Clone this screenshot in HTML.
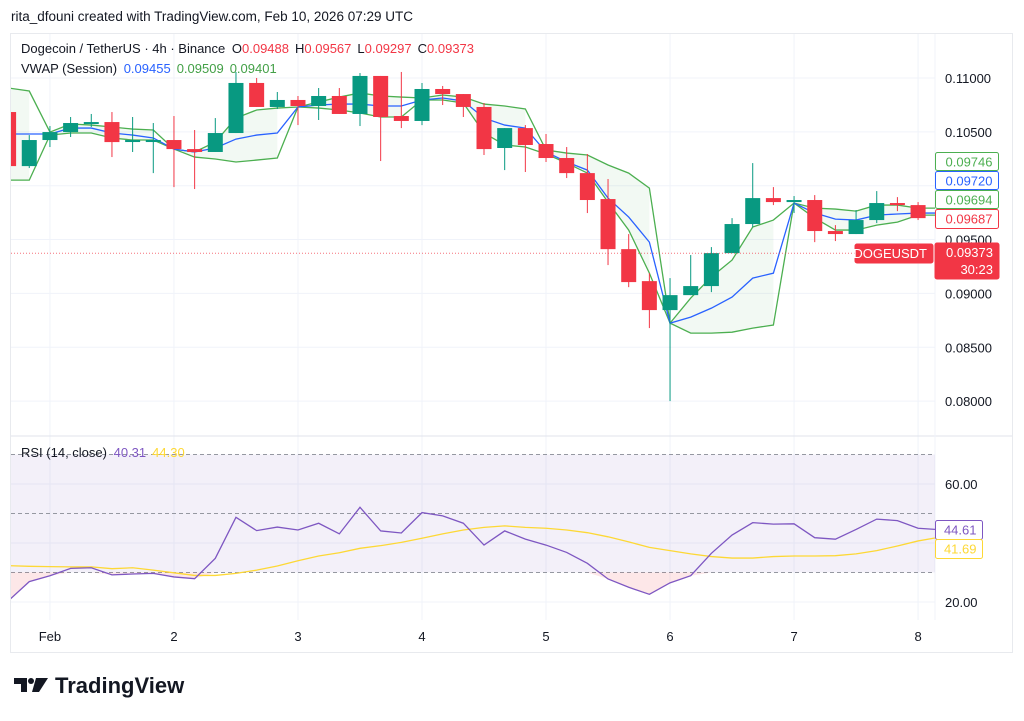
<!DOCTYPE html>
<html><head><meta charset="utf-8">
<style>
body{margin:0;background:#fff;font-family:"Liberation Sans",sans-serif;}
#wrap{position:relative;width:1024px;height:721px;overflow:hidden;background:#fff;}
svg text{font-family:"Liberation Sans",sans-serif;}
</style></head><body>
<div id="wrap">
<svg id="svg" width="1024" height="721">
  <defs><clipPath id="plot"><rect x="11" y="34" width="924" height="586"/></clipPath></defs>
  <text x="11" y="21" font-size="13.5" fill="#131722">rita_dfouni created with TradingView.com, Feb 10, 2026 07:29 UTC</text>
  <rect x="10.5" y="33.5" width="1002" height="619" fill="none" stroke="#e8eaee"/>
  <g id="grid"></g>
  <g id="rsiBg"></g>
  <g clip-path="url(#plot)">
  <g id="vwap"></g>
  <g id="candles"></g>
  <g id="rsi"></g>
  </g>
  <g id="axes"></g>
  <g>
    <text x="21" y="53" font-size="13" fill="#131722">Dogecoin / TetherUS · 4h · Binance <tspan dx="3">O</tspan><tspan fill="#f23645">0.09488</tspan><tspan dx="6">H</tspan><tspan fill="#f23645">0.09567</tspan><tspan dx="6">L</tspan><tspan fill="#f23645">0.09297</tspan><tspan dx="6">C</tspan><tspan fill="#f23645">0.09373</tspan></text>
    <text x="21" y="73" font-size="13" fill="#131722">VWAP (Session) <tspan dx="3" fill="#2962ff">0.09455</tspan><tspan dx="6" fill="#43a047">0.09509</tspan><tspan dx="6" fill="#43a047">0.09401</tspan></text>
    <text x="21" y="457" font-size="13" fill="#131722">RSI (14, close) <tspan dx="3" fill="#7e57c2">40.31</tspan><tspan dx="6" fill="#fdd835">44.30</tspan></text>
  </g>
  <g>
    <path d="M14 678 h13 v14 h-6 v-8 h-7z" fill="#131722"/>
    <circle cx="31" cy="681" r="3" fill="#131722"/>
    <path d="M36 678 h12 l-9 14 h-7z" fill="#131722"/>
    <text x="55" y="693" font-size="22" font-weight="bold" fill="#131722">TradingView</text>
  </g>
</svg>
</div>
<script>
const open_ =[.10684,.10182,.10424,.10498,.10582,.10591,.10415,.10415,.10424,.10340,.10313,.10489,.10954,.10731,.10796,.10740,.10833,.10666,.11019,.10647,.10601,.10898,.10851,.10731,.10350,.10535,.10387,.10257,.10117,.09876,.09411,.09114,.08845,.08984,.09068,.09374,.09644,.09885,.09848,.09867,.09579,.09551,.09681,.09839,.09820];
const close_=[.10182,.10424,.10498,.10582,.10591,.10405,.10424,.10424,.10340,.10313,.10489,.10954,.10731,.10796,.10740,.10833,.10666,.11019,.10638,.10601,.10898,.10851,.10731,.10340,.10535,.10378,.10257,.10117,.09867,.09411,.09105,.08845,.08984,.09068,.09374,.09644,.09885,.09848,.09867,.09579,.09551,.09681,.09839,.09820,.09699];
const high_ =[.10684,.10470,.10554,.10638,.10666,.10684,.10638,.10582,.10647,.10517,.10628,.11056,.11000,.10870,.10833,.10907,.10907,.11046,.11019,.11056,.10954,.10926,.10851,.10768,.10535,.10563,.10480,.10359,.10294,.10062,.09551,.09188,.09142,.09356,.09430,.09699,.10210,.09987,.09904,.09913,.09634,.09774,.09950,.09894,.09848];
const low_  =[.10182,.10164,.10359,.10452,.10545,.10266,.10313,.10117,.09987,.09969,.10313,.10489,.10731,.10712,.10563,.10610,.10666,.10554,.10229,.10535,.10563,.10749,.10638,.10285,.10145,.10127,.10220,.10071,.09746,.09263,.09058,.08678,.08000,.08984,.09012,.09374,.09616,.09820,.09746,.09476,.09486,.09551,.09653,.09764,.09681];
const vwapMid=[.10480,.10480,.10480,.10535,.10535,.10489,.10470,.10443,.10340,.10313,.10350,.10433,.10470,.10489,.10731,.10749,.10758,.10758,.10740,.10740,.10796,.10814,.10786,.10628,.10563,.10535,.10313,.10220,.10145,.09885,.09709,.09476,.08724,.08780,.08863,.08966,.09142,.09188,.09839,.09746,.09690,.09681,.09727,.09737,.09746];
const vwapUp=[.10907,.10879,.10498,.10573,.10563,.10545,.10526,.10517,.10340,.10313,.10405,.10628,.10703,.10721,.10731,.10777,.10823,.10861,.10833,.10823,.10814,.10842,.10823,.10758,.10740,.10712,.10331,.10303,.10285,.10192,.10117,.09978,.08724,.08957,.09152,.09309,.09616,.09681,.09839,.09792,.09783,.09764,.09820,.09820,.09792];
const vwapLow=[.10052,.10052,.10470,.10489,.10489,.10443,.10424,.10424,.10340,.10266,.10248,.10220,.10238,.10257,.10731,.10721,.10703,.10675,.10638,.10638,.10796,.10796,.10768,.10489,.10378,.10359,.10294,.10210,.10117,.09848,.09588,.09188,.08724,.08631,.08631,.08640,.08678,.08706,.09839,.09699,.09588,.09588,.09634,.09662,.09727];
const rsiVals=[20.5,26.9,28.9,31.4,31.6,29.2,29.5,29.7,28.5,27.9,34.8,48.7,44.2,45.4,44.4,46.7,43.1,52.1,44.1,43.4,50.3,49.2,46.7,39.3,44.1,41.3,39.3,36.8,33.1,27.8,25.0,22.6,26.5,28.9,36.5,42.7,46.9,46.4,46.5,41.8,41.3,44.6,48.1,47.6,45.0];
const rsiMA=[32.3,32.1,32.0,31.9,31.9,31.3,31.6,30.8,29.9,29.0,29.0,29.7,30.8,32.2,34.0,35.6,36.7,38.2,39.1,40.2,41.6,43.1,44.4,45.3,45.8,45.3,45.0,44.4,43.5,42.1,40.4,38.5,37.4,36.3,35.4,34.9,34.9,35.4,35.6,35.6,35.7,36.3,37.4,39.0,40.7];
const priceTicks=[0.11,0.105,0.10,0.095,0.09,0.085,0.08];
const priceTickLabels=["0.11000","0.10500","","0.09500","0.09000","0.08500","0.08000"];
const rsiTicks=[60,20];
const rsiTickLabels=["60.00","20.00"];
const dayLabels=["Feb","2","3","4","5","6","7","8"];
const dayIndex=[2,8,14,20,26,32,38,44];
const lastPrice=0.09373;

const NS="http://www.w3.org/2000/svg";
const X=i=>8.6+20.67*i;
const Y=p=>78+(0.11-p)*10770;
const R=v=>484+(60-v)*2.95;
function mk(tag,attrs,parent){const e=document.createElementNS(NS,tag);for(const k in attrs)e.setAttribute(k,attrs[k]);parent.appendChild(e);return e;}
const g=id=>document.getElementById(id);

priceTicks.forEach(p=>{const l=mk('line',{x1:11,x2:935,y1:Y(p),y2:Y(p),stroke:'#f0f3fa'},g('grid'));

});
dayIndex.forEach(i=>{const l=mk('line',{x1:X(i),x2:X(i),y1:34,y2:620,stroke:'#f0f3fa'},g('grid'));

});
[60,40,20].forEach(v=>{const l=mk('line',{x1:11,x2:935,y1:R(v),y2:R(v),stroke:'#f0f3fa'},g('grid'));

});
let sep=mk('line',{x1:11,x2:1012,y1:436,y2:436,stroke:'#e0e3eb'},g('grid'));


let sepv=mk('line',{x1:935,x2:935,y1:34,y2:620,stroke:'#f0f3fa'},g('grid'));



let band=mk('rect',{x:11,y:R(70),width:924,height:R(30)-R(70),fill:'#7e57c2','fill-opacity':0.09},g('rsiBg'));


[70,50,30].forEach(v=>{const l=mk('line',{x1:11,x2:935,y1:R(v),y2:R(v),stroke:'#9598a1','stroke-dasharray':'4 3'},g('rsiBg'));

});

function seg(arr,a,b,f){const pts=[];for(let i=a;i<=b;i++)pts.push(X(i)+','+f(arr[i]));return pts;}
const sessions=[[0,1],[2,7],[8,13],[14,19],[20,25],[26,31],[32,37],[38,44]];
sessions.forEach(([a,b])=>{
  const up=seg(vwapUp,a,b,Y), lo=seg(vwapLow,a,b,Y).reverse();
  if(a===0){up.unshift('11,'+Y(vwapUp[0]));lo.push('11,'+Y(vwapLow[0]));}
  let poly=mk('polygon',{points:up.concat(lo).join(' '),fill:'#4caf50','fill-opacity':0.07},g('vwap'));
  
  
});
function line(arr,color,name){const pts=arr.map((p,i)=>X(i)+','+Y(p));pts.unshift('11,'+Y(arr[0]));pts.push('935,'+Y(arr[arr.length-1]));
 const l=mk('polyline',{points:pts.join(' '),fill:'none',stroke:color,'stroke-width':1.3},g('vwap'));
 
 }
line(vwapUp,'#4caf50','vwap-upper-band');
line(vwapLow,'#4caf50','vwap-lower-band');
line(vwapMid,'#2962ff','vwap-line');

for(let i=0;i<open_.length;i++){
  const up=close_[i]>=open_[i], c=up?'#089981':'#f23645';
  const x=X(i);
  const w=mk('line',{x1:x,x2:x,y1:Y(high_[i]),y2:Y(low_[i]),stroke:c,'stroke-width':1},g('candles'));
  
  
  const t=Math.min(Y(open_[i]),Y(close_[i])), h=Math.max(2,Math.abs(Y(open_[i])-Y(close_[i])));
  const r=mk('rect',{x:x-7.5,y:t,width:15,height:h,fill:c},g('candles'));
  
  
}
let ll=mk('line',{x1:11,x2:935,y1:Y(lastPrice),y2:Y(lastPrice),stroke:'#f23645','stroke-dasharray':'1 2','stroke-opacity':0.7},g('candles'));



let pts=rsiVals.map((v,i)=>X(i)+','+R(v));pts.push('935,'+R(44.61));
let maPts=rsiMA.map((v,i)=>X(i)+','+R(v));maPts.unshift('11,'+R(rsiMA[0]));maPts.push('935,'+R(41.69));
let os=[];for(let i=0;i<rsiVals.length;i++){os.push(X(i)+','+Math.max(R(rsiVals[i]),R(30)));}
let osf=mk('polygon',{points:'11,'+R(30)+' '+os.join(' ')+' 935,'+R(30),fill:'#f23645','fill-opacity':0.12},g('rsi'));


let ma=mk('polyline',{points:maPts.join(' '),fill:'none',stroke:'#fdd835','stroke-width':1.3},g('rsi'));


let rl=mk('polyline',{points:pts.join(' '),fill:'none',stroke:'#7e57c2','stroke-width':1.3},g('rsi'));



priceTicks.forEach((p,k)=>{if(!priceTickLabels[k])return;const t=mk('text',{x:945,y:Y(p)+5,'font-size':13,fill:'#131722'},g('axes'));t.textContent=priceTickLabels[k];

});
rsiTicks.forEach((v,k)=>{const t=mk('text',{x:945,y:R(v)+5,'font-size':13,fill:'#131722'},g('axes'));t.textContent=rsiTickLabels[k];

});
dayIndex.forEach((i,k)=>{const t=mk('text',{x:X(i),y:641,'font-size':13,fill:'#131722','text-anchor':'middle'},g('axes'));t.textContent=dayLabels[k];

});

function box(x,y,w,h,fill,stroke,txt,color,name){
  const r=mk('rect',{x:x,y:y,width:w,height:h,fill:fill,stroke:stroke,rx:2},g('axes'));
  
  
  txt.forEach((s,k)=>{const t=mk('text',{x:x+w-6,y:y+14+k*17,'font-size':13,fill:color,'text-anchor':'end'},g('axes'));t.textContent=s;
  
  });
}
box(935.5,152.5,63,18,'#fff','#4caf50',['0.09746'],'#4caf50','vwap-upper-label');
box(935.5,171.5,63,18,'#fff','#2962ff',['0.09720'],'#2962ff','vwap-label');
box(935.5,190.5,63,18,'#fff','#4caf50',['0.09694'],'#4caf50','vwap-lower-label');
box(935.5,209.5,63,19,'#fff','#f23645',['0.09687'],'#f23645','price-label-red');
box(855,244,78,19,'#f23645','#f23645',['DOGEUSDT'],'#fff','symbol-label');
box(935,243,64,36,'#f23645','#f23645',['0.09373','30:23'],'#fff','last-price-label');
box(935.5,520.5,47,19,'#fff','#7e57c2',['44.61'],'#7e57c2','rsi-value-label');
box(935.5,539.5,47,19,'#fff','#fdd835',['41.69'],'#fdd835','rsi-ma-value-label');
</script>
</body></html>
